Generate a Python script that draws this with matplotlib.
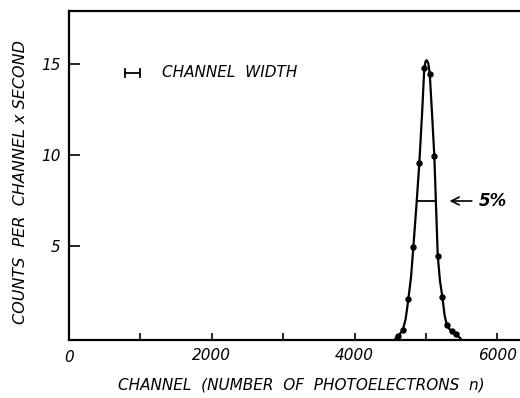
import matplotlib
matplotlib.use("Agg")
import matplotlib.pyplot as plt

# measured points (channel, counts per channel x second)
pts_x = [4604, 4674, 4752, 4822, 4906, 4976, 5052, 5116, 5164, 5228, 5290, 5360, 5420]
pts_y = [0.05, 0.38, 2.07, 4.92, 9.54, 14.79, 14.46, 9.96, 4.47, 2.22, 0.69, 0.33, 0.15]

# hand drawn curve through the points
curve_x = [4566, 4604, 4640, 4674, 4715, 4752, 4790, 4822, 4865, 4906, 4945, 4976, 4995,
           5010, 5030, 5052, 5085, 5116, 5140, 5164, 5195, 5228, 5260, 5290, 5325, 5360,
           5420, 5490]
curve_y = [-0.1, 0.05, 0.2, 0.38, 1.0, 2.07, 3.3, 4.92, 7.2, 9.54, 12.3, 14.79, 15.15,
           15.2, 15.05, 14.46, 12.2, 9.96, 7.2, 4.47, 3.1, 2.22, 1.2, 0.69, 0.45, 0.33,
           0.15, -0.1]

xticks = [1000, 2000, 3000, 4000, 5000, 6000]
xlabels = ["", "2000", "", "4000", "", "6000"]
yticks = [5, 10, 15]

fs = 11
plt.rcParams['font.family'] = ['DejaVu Sans']

fig = plt.figure(figsize=(5.2, 3.98), dpi=100)
ax = fig.add_axes([0.1327, 0.1457, 0.8673, 0.8267])

ax.plot(curve_x, curve_y, color='black', lw=1.6, solid_capstyle='round')
ax.plot(pts_x, pts_y, 'o', color='black', ms=3.6)

# half width bar + 5% note
ax.plot([4888, 5140], [7.47, 7.47], color='black', lw=1.3)
ax.annotate("", xy=(5290, 7.47), xytext=(5680, 7.47),
            arrowprops=dict(arrowstyle='->', color='black', lw=1.2, mutation_scale=14))
ax.text(5740, 7.47, "5%", fontsize=fs + 1, fontweight='bold', style='italic', va='center')

# channel width marker
ax.plot([784, 994], [14.5, 14.5], color='black', lw=1.3)
ax.plot([784, 784], [14.27, 14.73], color='black', lw=1.3)
ax.plot([994, 994], [14.27, 14.73], color='black', lw=1.3)
ax.text(1300, 14.5, "CHANNEL  WIDTH", fontsize=fs, style='italic', va='center')

ax.set_xlim(0, 6316)
ax.set_ylim(-0.16, 17.9)
ax.spines['right'].set_visible(False)
for s in ['left', 'bottom', 'top']:
    ax.spines[s].set_linewidth(1.6)

ax.set_xticks(xticks)
ax.set_xticklabels(xlabels)
ax.set_yticks(yticks)
ax.tick_params(axis='x', direction='in', length=5, width=1.2, labelsize=fs, pad=6)
ax.tick_params(axis='y', direction='in', length=8, width=1.2, labelsize=fs, pad=6)
for lab in ax.get_xticklabels() + ax.get_yticklabels():
    lab.set_style('italic')
ax.text(0, -1.1, "0", fontsize=fs, style='italic', ha='center', va='center')

fig.text(0.579, 0.033, "CHANNEL  (NUMBER  OF  PHOTOELECTRONS  n)", fontsize=fs,
         style='italic', ha='center', va='center')
fig.text(0.04, 0.543, "COUNTS  PER  CHANNEL x SECOND", fontsize=fs + 0.5, style='italic',
         rotation=90, ha='center', va='center')

fig.savefig("out.png", dpi=100)
